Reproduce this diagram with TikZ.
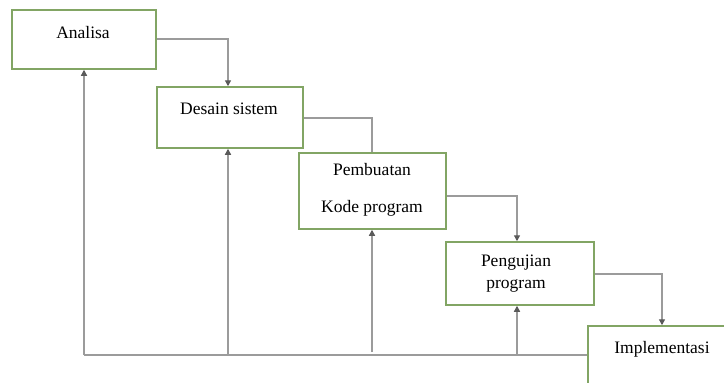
\documentclass[tikz,border=0pt]{standalone}
\usepackage{fontspec}
\setmainfont{Liberation Serif}
\usetikzlibrary{arrows.meta}
\definecolor{boxgreen}{RGB}{130,165,100}
\definecolor{linegray}{RGB}{155,155,155}
\definecolor{tipgray}{RGB}{90,90,90}
\begin{document}
\begin{tikzpicture}[x=1pt,y=-1pt,
  box/.style={draw=boxgreen,line width=1.5pt,fill=white,inner sep=0pt},
  txt/.style={font=\fontsize{17.5}{21}\selectfont,inner sep=0pt,anchor=center},
  conn/.style={draw=linegray,line width=1.3pt},
  arr/.style={conn,-{Triangle[length=6pt,width=6pt,color=tipgray]}}]
\useasboundingbox (0,0) rectangle (724,383);
% boxes
\node[box,minimum width=144pt,minimum height=59pt] (an) at (84,39.5) {};
\node[box,minimum width=146pt,minimum height=61pt] (ds) at (230,117.5) {};
\node[box,minimum width=147pt,minimum height=76pt] (pk) at (372.5,191) {};
\node[box,minimum width=148pt,minimum height=63pt] (pp) at (520,273.5) {};
\node[box,minimum width=140pt,minimum height=62pt] (im) at (658,357) {};
% texts
\node[txt] (anT) at (83,33) {Analisa};
\node[txt] (dsT) at (229,109) {Desain sistem};
\node[txt] (pkT1) at (372,170) {Pembuatan};
\node[txt] (pkT2) at (372,208) {Kode program};
\node[txt] (ppT1) at (516,263) {Pengujian};
\node[txt] (ppT2) at (516,286) {program};
\node[txt] (imT) at (662,349) {Implementasi};
% coordinates
\coordinate (c1) at (228,39);
\coordinate (c2) at (372,118);
\coordinate (c3) at (517,196);
\coordinate (c4) at (662,274);
\coordinate (b0) at (84,355);
\coordinate (b1) at (228,355);
\coordinate (b2) at (372,352);
\coordinate (b3) at (517,355);
% forward connectors
\draw[arr] (an.east |- c1) -- (c1) -- (c1 |- ds.north);
\draw[conn] (ds.east |- c2) -- (c2) -- (c2 |- pk.north);
\draw[arr] (pk.east |- c3) -- (c3) -- (c3 |- pp.north);
\draw[arr] (pp.east |- c4) -- (c4) -- (c4 |- im.north);
% feedback
\draw[conn] (im.west |- b0) -- (b0);
\draw[arr] (b0) -- (b0 |- an.south);
\draw[arr] (b1) -- (b1 |- ds.south);
\draw[arr] (b2) -- (b2 |- pk.south);
\draw[arr] (b3) -- (b3 |- pp.south);
\end{tikzpicture}
\end{document}
